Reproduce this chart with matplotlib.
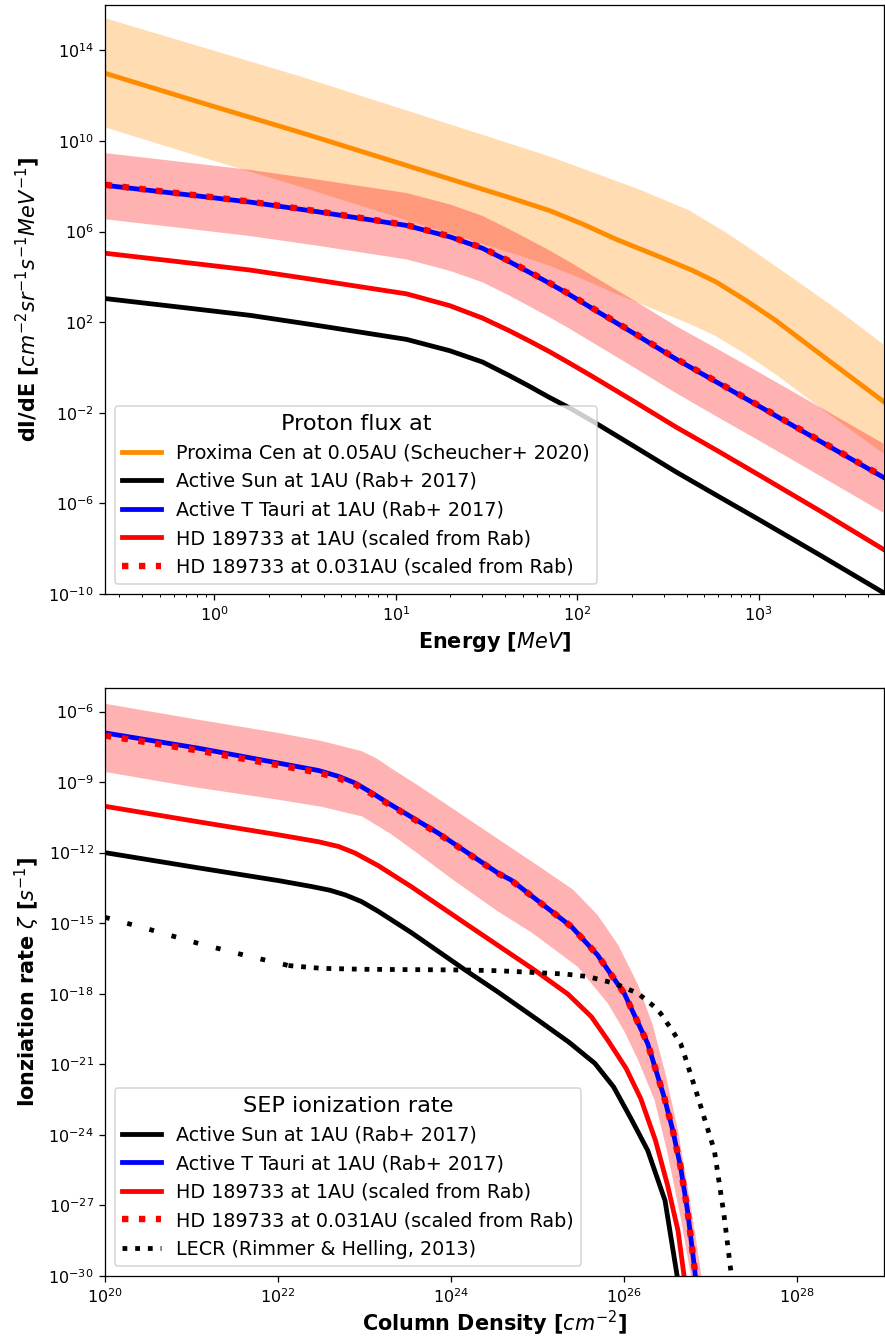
"""
SEP proton flux (top) and ionization rate (bottom) — two stacked log-log panels.
Values below are log10 readings off the reference picture.
"""
import matplotlib
matplotlib.use("Agg")
import matplotlib.pyplot as plt
from matplotlib.lines import Line2D
from matplotlib.ticker import NullLocator
import numpy as np

# ---- top panel: proton flux dI/dE vs energy (log10 values) -------------------
E_LOG = [-0.599, -0.187, 0.198, 0.564, 1.059, 1.297, 1.478, 1.626, 1.736, 1.846,
         1.956, 2.084, 2.313, 2.542, 2.769, 3.0, 3.341, 3.687]
SUN_FLUX = [3.04, 2.66, 2.30, 1.86, 1.24, 0.74, 0.24, -0.36, -0.83, -1.32, -1.78,
            -2.37, -3.48, -4.60, -5.65, -6.71, -8.30, -9.94]
HD_1AU_FLUX = [5.04, 4.66, 4.30, 3.86, 3.25, 2.73, 2.18, 1.62, 1.17, 0.70, 0.20,
               -0.40, -1.50, -2.62, -3.66, -4.74, -6.35, -8.03]
TTAURI_FLUX = [8.04, 7.66, 7.30, 6.88, 6.27, 5.77, 5.26, 4.67, 4.20, 3.72, 3.22,
               2.60, 1.50, 0.38, -0.65, -1.70, -3.27, -4.85]
HD_0031AU_FLUX = [8.06, 7.68, 7.32, 6.90, 6.29, 5.79, 5.28, 4.69, 4.22, 3.74, 3.24,
                  2.62, 1.52, 0.40, -0.63, -1.68, -3.25, -4.83]
TTAURI_FLUX_HI = [9.46, 9.08, 8.72, 8.30, 7.70, 7.20, 6.69, 6.10, 5.64, 5.17, 4.67,
                  4.05, 2.96, 1.84, 0.83, -0.21, -1.77, -3.36]
TTAURI_FLUX_LO = [6.54, 6.16, 5.80, 5.38, 4.77, 4.27, 3.76, 3.17, 2.70, 2.22, 1.72,
                  1.10, 0.00, -1.12, -2.17, -3.22, -4.80, -6.41]

PROX_E_LOG = [-0.599, -0.077, 0.473, 1.022, 1.462, 1.65, 1.846, 2.03, 2.214, 2.489,
              2.63, 2.764, 2.929, 3.093, 3.385, 3.687]
PROX_FLUX = [12.98, 11.70, 10.38, 9.01, 7.91, 7.44, 6.93, 6.33, 5.66, 4.77, 4.30,
             3.78, 2.96, 2.08, 0.31, -1.50]
PROX_FLUX_LO = [10.59, 9.30, 7.98, 6.60, 5.50, 5.02, 4.50, 3.90, 3.25, 2.35, 1.88,
                1.38, 0.58, -0.30, -2.05, -3.80]
PROX_HI_E_LOG = [-0.599, 0.473, 1.132, 1.846, 2.341, 2.615, 2.819, 3.0, 3.22, 3.44,
                 3.687]
PROX_FLUX_HI = [15.41, 12.85, 11.16, 9.32, 7.86, 6.94, 5.96, 4.99, 3.76, 2.52, 1.02]

# ---- bottom panel: ionization rate vs column density (log10 values) ----------
SUN_N = [20.0, 21.084, 22.006, 22.386, 22.6, 22.778, 22.963, 23.159, 23.539, 24.161,
         24.542, 25.003, 25.36, 25.66, 25.876, 26.086, 26.27, 26.47, 26.61, 26.66]
SUN_ION = [-12.0, -12.65, -13.19, -13.44, -13.60, -13.80, -14.08, -14.50, -15.40,
           -16.99, -17.93, -19.12, -20.06, -20.96, -21.96, -23.37, -24.66, -26.79,
           -29.99, -31.5]

HD_N = [20.0, 21.08, 22.0, 22.47, 22.7, 22.89, 23.16, 23.54, 24.2, 24.965, 25.35,
        25.62, 25.81, 26.02, 26.19, 26.36, 26.5, 26.62, 26.69, 26.73]
HD_1AU_ION = [-10.03, -10.69, -11.24, -11.54, -11.74, -12.02, -12.56, -13.45, -15.1,
              -17.0, -18.02, -18.98, -19.98, -21.17, -22.46, -24.24, -26.15, -28.07,
              -29.99, -31.05]

TT_N = [20.0, 21.08, 22.0, 22.47, 22.7, 22.89, 23.08, 23.27, 23.85, 24.54, 24.69,
        25.39, 25.69, 26.0, 26.27, 26.46, 26.56, 26.65, 26.73, 26.81, 26.85]
TTAURI_ION = [-6.91, -7.56, -8.19, -8.51, -8.76, -9.04, -9.45, -9.89, -11.17, -12.87,
              -13.16, -15.15, -16.35, -17.99, -20.12, -22.39, -23.81, -25.37, -27.22,
              -29.63, -31.05]
HD_0031AU_ION = [-7.02, -7.66, -8.28, -8.60, -8.84, -9.10, -9.50, -9.93, -11.19,
                 -12.88, -13.17, -15.15, -16.35, -17.99, -20.12, -22.39, -23.81,
                 -25.37, -27.22, -29.63, -31.05]

TT_HI_N = [20.0, 21.0, 22.0, 22.5, 22.97, 23.15, 23.3, 23.6, 24.31, 25.0, 25.41,
           25.69, 25.93, 26.16, 26.33, 26.48, 26.62, 26.74, 26.83, 26.89, 26.93]
TTAURI_ION_HI = [-5.67, -6.30, -6.91, -7.25, -7.69, -8.02, -8.40, -9.10, -10.85,
                 -12.55, -13.58, -14.65, -15.93, -17.63, -19.34, -21.47, -23.81,
                 -26.37, -28.50, -30.0, -31.5]
TT_LO_N = [20.0, 21.0, 22.0, 22.5, 22.97, 23.3, 23.6, 24.0, 24.54, 24.93, 25.46,
           25.81, 26.0, 26.16, 26.35, 26.5, 26.65, 26.77, 26.82]
TTAURI_ION_LO = [-8.57, -9.20, -9.75, -10.05, -10.46, -11.20, -12.00, -13.10,
                 -14.50, -15.40, -16.85, -18.41, -19.60, -20.83, -22.53, -24.80,
                 -27.50, -30.0, -31.5]

LECR_N = [20.0, 20.5, 21.08, 21.6, 22.12, 22.5, 23.0, 24.16, 24.54, 25.31, 25.58,
          25.89, 26.16, 26.35, 26.42, 26.56, 26.65, 26.69, 26.85, 26.92, 27.04,
          27.15, 27.23, 27.28]
LECR_ION = [-14.75, -15.25, -15.86, -16.35, -16.8, -16.92, -16.96, -16.99, -17.02,
            -17.16, -17.27, -17.56, -17.99, -18.56, -18.84, -19.6, -20.12, -20.55,
            -22.39, -23.24, -24.66, -27.36, -29.77, -31.5]
LECR_SPARSE = 5   # first points: dots drawn further apart in the reference

LABELS = ["Proxima Cen at 0.05AU (Scheucher+ 2020)", "Active Sun at 1AU (Rab+ 2017)",
          "Active T Tauri at 1AU (Rab+ 2017)", "HD 189733 at 1AU (scaled from Rab)",
          "HD 189733 at 0.031AU (scaled from Rab)"]
LABEL_LECR = "LECR (Rimmer & Helling, 2013)"


def p10(v):
    return np.power(10.0, np.asarray(v, dtype=float))


def band(ax, x_hi, y_hi, x_lo, y_lo, color):
    """shaded range between an upper and a lower curve (own x grids)."""
    xh, yh, xl, yl = p10(x_hi), p10(y_hi), p10(x_lo), p10(y_lo)
    ax.fill(np.r_[xh, xl[::-1]], np.r_[yh, yl[::-1]], color=color, alpha=0.3, lw=0)


DPI = 115
LW = 3
fig = plt.figure(figsize=(885 / DPI, 1338 / DPI), dpi=DPI)

# ---------------------------------------------------------------- top panel
ax = fig.add_axes([105 / 885, 1 - 594 / 1338, 779 / 885, 589 / 1338])
band(ax, PROX_HI_E_LOG, PROX_FLUX_HI, PROX_E_LOG, PROX_FLUX_LO, "darkorange")
band(ax, E_LOG, TTAURI_FLUX_HI, E_LOG, TTAURI_FLUX_LO, "red")
ax.plot(p10(PROX_E_LOG), p10(PROX_FLUX), color="darkorange", lw=LW, label=LABELS[0])
ax.plot(p10(E_LOG), p10(SUN_FLUX), color="black", lw=LW, label=LABELS[1])
ax.plot(p10(E_LOG), p10(TTAURI_FLUX), color="blue", lw=LW, label=LABELS[2])
ax.plot(p10(E_LOG), p10(HD_1AU_FLUX), color="red", lw=LW, label=LABELS[3])
ax.plot(p10(E_LOG), p10(HD_0031AU_FLUX), color="red", lw=4, ls=":", label=LABELS[4])
ax.set_xscale("log")
ax.set_yscale("log")
ax.set_xlim(0.25, 4900)
ax.set_ylim(1e-10, 1e16)
ax.set_yticks([10.0 ** k for k in range(-10, 15, 4)])
ax.yaxis.set_minor_locator(NullLocator())
ax.set_xlabel("Energy [$MeV$]", fontsize=13, fontweight="bold")
ax.set_ylabel("dI/dE [$cm^{-2}sr^{-1}s^{-1}MeV^{-1}$]", fontsize=13, fontweight="bold")
ax.legend(loc="lower left", fontsize=12, title="Proton flux at", title_fontsize=14)

# ------------------------------------------------------------- bottom panel
bx = fig.add_axes([105 / 885, 1 - 1276 / 1338, 779 / 885, 588 / 1338])
band(bx, TT_HI_N, TTAURI_ION_HI, TT_LO_N, TTAURI_ION_LO, "red")
bx.plot(p10(SUN_N), p10(SUN_ION), color="black", lw=LW, label=LABELS[1])
bx.plot(p10(TT_N), p10(TTAURI_ION), color="blue", lw=LW, label=LABELS[2])
bx.plot(p10(HD_N), p10(HD_1AU_ION), color="red", lw=LW, label=LABELS[3])
bx.plot(p10(TT_N), p10(HD_0031AU_ION), color="red", lw=4, ls=":", label=LABELS[4])
bx.plot(p10(LECR_N[:LECR_SPARSE]), p10(LECR_ION[:LECR_SPARSE]), color="black", lw=LW,
        ls=(0, (1, 3.8)))
bx.plot(p10(LECR_N[LECR_SPARSE - 1:]), p10(LECR_ION[LECR_SPARSE - 1:]), color="black",
        lw=LW, ls=":")
bx.set_xscale("log")
bx.set_yscale("log")
bx.set_xlim(1e20, 1e29)
bx.set_ylim(1e-30, 1e-5)
bx.set_xticks([10.0 ** k for k in range(20, 29, 2)])
bx.set_yticks([10.0 ** k for k in range(-30, -5, 3)])
bx.xaxis.set_minor_locator(NullLocator())
bx.yaxis.set_minor_locator(NullLocator())
bx.set_xlabel("Column Density [$cm^{-2}$]", fontsize=13, fontweight="bold", labelpad=2)
bx.set_ylabel(r"Ionziation rate $\zeta$ [$s^{-1}$]", fontsize=13, fontweight="bold")
h, l = bx.get_legend_handles_labels()
h.append(Line2D([], [], color="black", lw=LW, ls=":"))
l.append(LABEL_LECR)
bx.legend(h, l, loc="lower left", fontsize=12, title="SEP ionization rate", title_fontsize=14)

fig.savefig("out.png", dpi=DPI)
